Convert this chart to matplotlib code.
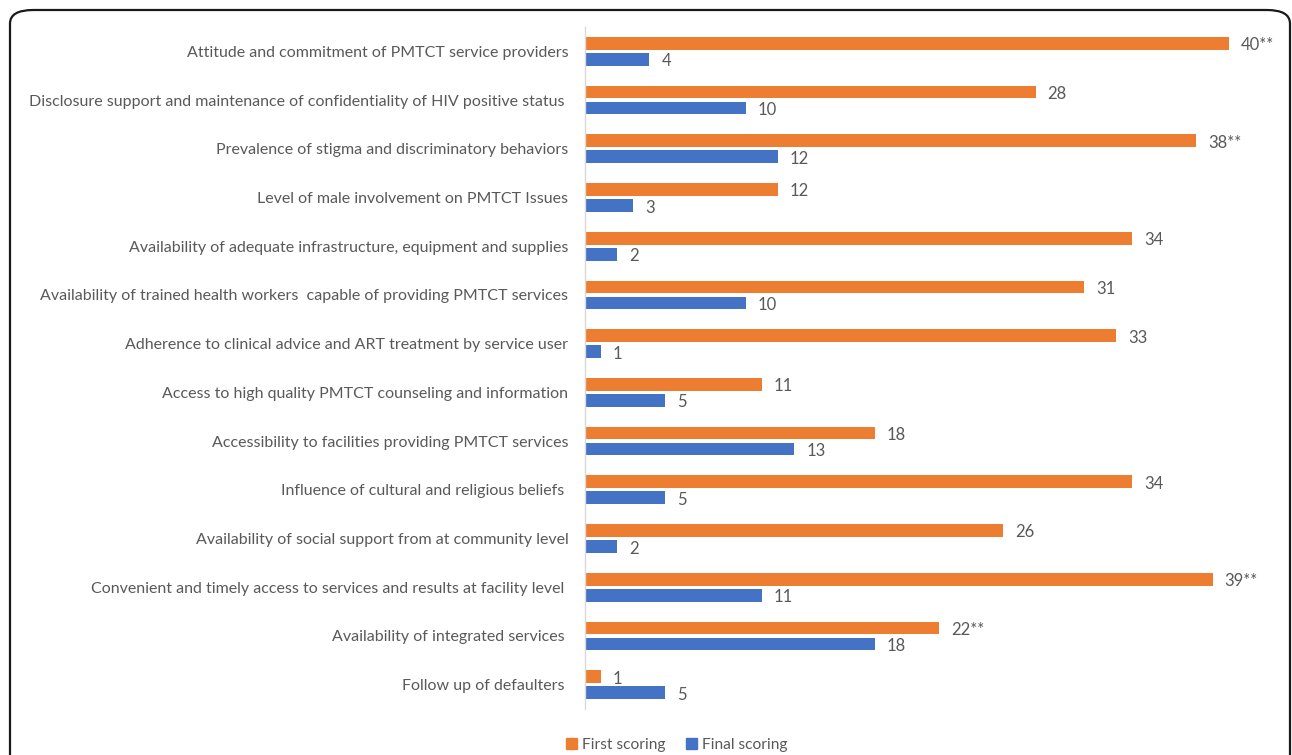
import numpy as np
import matplotlib.pyplot as plt
from matplotlib.patches import FancyBboxPatch, Patch

categories = [
    "Attitude and commitment of PMTCT service providers",
    "Disclosure support and maintenance of confidentiality of HIV positive status ",
    "Prevalence of stigma and discriminatory behaviors",
    "Level of male involvement on PMTCT Issues",
    "Availability of adequate infrastructure, equipment and supplies",
    "Availability of trained health workers  capable of providing PMTCT services",
    "Adherence to clinical advice and ART treatment by service user",
    "Access to high quality PMTCT counseling and information",
    "Accessibility to facilities providing PMTCT services",
    "Influence of cultural and religious beliefs ",
    "Availability of social support from at community level",
    "Convenient and timely access to services and results at facility level ",
    "Availability of integrated services ",
    "Follow up of defaulters ",
]
first_scoring = [40, 28, 38, 12, 34, 31, 33, 11, 18, 34, 26, 39, 22, 1]
final_scoring = [4, 10, 12, 3, 2, 10, 1, 5, 13, 5, 2, 11, 18, 5]
first_labels = ["40**", "28", "38**", "12", "34", "31", "33", "11", "18", "34",
                "26", "39**", "22**", "1"]
final_labels = [str(v) for v in final_scoring]

ORANGE = "#ED7D31"
BLUE = "#4472C4"
TXT = "#595959"
FONT = ["Lato", "DejaVu Sans"]
plt.rcParams["font.family"] = FONT

W, H = 1292, 755
fig = plt.figure(figsize=(W / 100, H / 100), dpi=100)
ax = fig.add_axes([585 / W, 46 / H, 708 / W, 682 / H])

y = np.arange(len(categories))
bh = 0.26
off = 0.165
ax.barh(y - off, first_scoring, height=bh, color=ORANGE)
ax.barh(y + off, final_scoring, height=bh, color=BLUE)

for yi, v, lab in zip(y, first_scoring, first_labels):
    ax.annotate(lab, (v, yi - off), xytext=(12, -2), textcoords="offset pixels",
                va="center", ha="left", fontsize=12, color=TXT)
for yi, v, lab in zip(y, final_scoring, final_labels):
    ax.annotate(lab, (v, yi + off), xytext=(12, -2), textcoords="offset pixels",
                va="center", ha="left", fontsize=12, color=TXT)

ax.set_xlim(0, 44)
ax.set_ylim(len(categories) - 0.5, -0.5)
ax.set_yticks(y)
ax.set_yticklabels(categories, fontsize=11.5, color=TXT)
ax.tick_params(axis="y", length=0, pad=12)
ax.set_xticks([])
for s in ["top", "right", "bottom"]:
    ax.spines[s].set_visible(False)
ax.spines["left"].set_color("#D9D9D9")
ax.spines["left"].set_linewidth(1)

handles = [Patch(color=ORANGE, label="First scoring"),
           Patch(color=BLUE, label="Final scoring")]
leg = fig.legend(handles=handles, loc="center", bbox_to_anchor=(677 / W, 1 - 745 / H),
                 ncol=2, frameon=False, fontsize=11.2, handlelength=0.7, handleheight=0.7,
                 handletextpad=0.35, columnspacing=1.3, borderaxespad=0, borderpad=0)
for t in leg.get_texts():
    t.set_color(TXT)

# rounded frame around the whole figure
frame = FancyBboxPatch((10 / W, -40 / H), 1280 / W, 785 / H,
                       boxstyle="round,pad=0,rounding_size=0.018",
                       transform=fig.transFigure, fill=False,
                       edgecolor="#1a1a1a", linewidth=1.6, clip_on=False)
fig.patches.append(frame)

fig.savefig("out.png", dpi=100)
